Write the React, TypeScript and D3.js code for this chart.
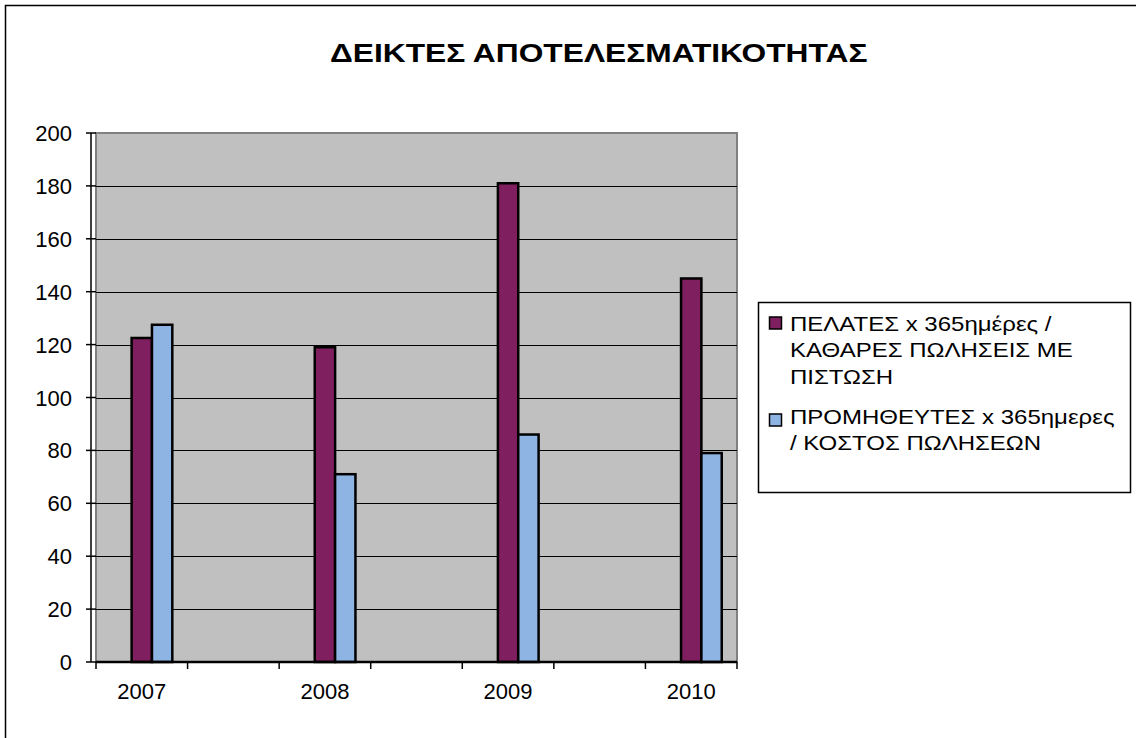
import React from "react";
import * as d3 from "d3";

const title = "ΔΕΙΚΤΕΣ ΑΠΟΤΕΛΕΣΜΑΤΙΚΟΤΗΤΑΣ";
const categories = ["2007", "", "2008", "", "2009", "", "2010"];
const clients: (number | null)[] = [122.5, null, 119, null, 181, null, 145];
const suppliers: (number | null)[] = [127.5, null, 71, null, 86, null, 79];
const seriesNames = ["clients", "suppliers"];
const legendLabels = [
  ["ΠΕΛΑΤΕΣ x 365ημέρες /", "ΚΑΘΑΡΕΣ ΠΩΛΗΣΕΙΣ ΜΕ", "ΠΙΣΤΩΣΗ"],
  ["ΠΡΟΜΗΘΕΥΤΕΣ x 365ημερες", "/ ΚΟΣΤΟΣ ΠΩΛΗΣΕΩΝ"],
];
const yTicks = [0, 20, 40, 60, 80, 100, 120, 140, 160, 180, 200];
const colors = ["#7F1F5F", "#8EB4E3"];

const W = 1136;
const H = 738;
const plot = { left: 96, right: 737, top: 133, bottom: 662 };
const FONT = "'Liberation Sans', Arial, sans-serif";

export default function App() {
  const x = d3
    .scaleBand<number>()
    .domain(d3.range(categories.length))
    .range([plot.left, plot.right])
    .paddingInner(0)
    .paddingOuter(0);
  const inner = d3
    .scaleBand<string>()
    .domain(["_hidden", ...seriesNames])
    .range([0, x.bandwidth()])
    .paddingInner(0)
    .paddingOuter(0.75);
  const y = d3.scaleLinear().domain([0, 200]).range([plot.bottom, plot.top]);
  const series = [clients, suppliers];
  const boundaries = d3.range(categories.length + 1).map((i) => plot.left + i * x.step());
  const axisX = 91;

  const legendRows = [
    { baselines: [331, 357, 384], square: 317 },
    { baselines: [424, 450], square: 414 },
  ];

  return (
    <svg width={W} height={H} style={{ position: "absolute", left: 0, top: 0, background: "#fff" }}>
      <rect x={0} y={0} width={W} height={H} fill="#fff" />
      <rect x={5.5} y={5.5} width={W + 10} height={H + 10} fill="none" stroke="#000" strokeWidth={1.5} />
      <text
        transform={`translate(330,62) scale(1.22,1)`}
        fontFamily={FONT}
        fontWeight="bold"
        fontSize={26}
        fill="#000"
      >
        {title}
      </text>

      {/* plot area */}
      <rect
        x={plot.left}
        y={plot.top}
        width={plot.right - plot.left}
        height={plot.bottom - plot.top}
        fill="#C0C0C0"
        stroke="#808080"
        strokeWidth={2}
      />
      {yTicks
        .filter((t) => t > 0 && t < 200)
        .map((t) => (
          <line
            key={t}
            x1={plot.left}
            x2={plot.right}
            y1={Math.round(y(t)) + 0.5}
            y2={Math.round(y(t)) + 0.5}
            stroke="#000"
            strokeWidth={1.2}
          />
        ))}

      {/* bars */}
      {series.map((vals, si) =>
        vals.map((v, ci) =>
          v == null ? null : (
            <rect
              key={`${si}-${ci}`}
              x={(x(ci) as number) + (inner(seriesNames[si]) as number)}
              y={y(v)}
              width={inner.bandwidth()}
              height={plot.bottom - y(v)}
              fill={colors[si]}
              stroke="#000"
              strokeWidth={2.5}
            />
          )
        )
      )}

      {/* y axis */}
      <line x1={axisX} x2={axisX} y1={plot.top} y2={plot.bottom} stroke="#000" strokeWidth={1.5} />
      {yTicks.map((t) => (
        <g key={t}>
          <line x1={86} x2={plot.left} y1={y(t)} y2={y(t)} stroke="#000" strokeWidth={1.5} />
          <text
            x={72}
            y={y(t) + 8}
            textAnchor="end"
            fontFamily={FONT}
            fontSize={22}
            fill="#000"
          >
            {t}
          </text>
        </g>
      ))}

      {/* x axis */}
      <line x1={plot.left} x2={plot.right} y1={plot.bottom} y2={plot.bottom} stroke="#000" strokeWidth={2.5} />
      {boundaries.map((b, i) => (
        <line key={i} x1={b} x2={b} y1={plot.bottom} y2={plot.bottom + 7} stroke="#000" strokeWidth={1.5} />
      ))}
      {categories.map((c, i) =>
        c ? (
          <text
            key={i}
            x={(x(i) as number) + x.bandwidth() / 2}
            y={699}
            textAnchor="middle"
            fontFamily={FONT}
            fontSize={22}
            fill="#000"
          >
            {c}
          </text>
        ) : null
      )}

      {/* legend */}
      <rect x={758.5} y={302.5} width={372} height={190} fill="#fff" stroke="#000" strokeWidth={1.5} />
      {legendLabels.map((lines, li) => (
        <g key={li}>
          <rect
            x={769.5}
            y={legendRows[li].square}
            width={12}
            height={12}
            fill={colors[li]}
            stroke="#000"
            strokeWidth={1.5}
          />
          {lines.map((ln, k) => (
            <text
              key={k}
              transform={`translate(790,${legendRows[li].baselines[k]}) scale(1.2,1)`}
              fontFamily={FONT}
              fontSize={20}
              fill="#000"
            >
              {ln}
            </text>
          ))}
        </g>
      ))}
    </svg>
  );
}
